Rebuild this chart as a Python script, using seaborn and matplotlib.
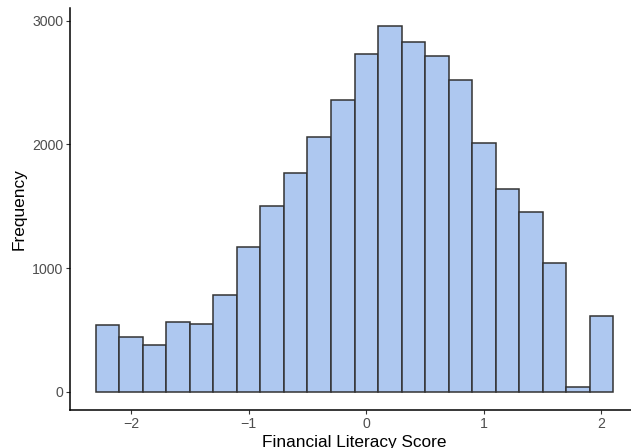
#!/usr/bin/env python3
import numpy as np
import pandas as pd
import matplotlib
matplotlib.use("Agg")
import matplotlib.pyplot as plt
import seaborn as sns

# histogram bins (width 0.2) and counts
bin_edges = [round(-2.3 + 0.2 * i, 2) for i in range(23)]
counts = [536, 439, 374, 560, 544, 784, 1170, 1504, 1773, 2064, 2363,
          2735, 2956, 2829, 2719, 2522, 2013, 1639, 1455, 1045, 38, 612]
x_ticks = [-2, -1, 0, 1, 2]
y_ticks = [0, 1000, 2000, 3000]

edges = np.array(bin_edges)
df = pd.DataFrame({
    "score": (edges[:-1] + edges[1:]) / 2,
    "count": counts,
})

sns.set_style("white")
plt.rcParams["font.family"] = ["Liberation Sans", "DejaVu Sans"]

W, H = 631, 448
fig = plt.figure(figsize=(W / 100, H / 100), dpi=100)
ax = fig.add_axes([70 / W, (H - 410) / H, (639 - 70) / W, (410 - 8) / H])

sns.histplot(data=df, x="score", weights="count", bins=bin_edges,
             color="#aec8f0", alpha=1, edgecolor="#333333", linewidth=1.1,
             ax=ax)

ax.set_xlim(-2.52, 2.32)
ax.set_ylim(-147.8, 3104)
ax.set_xticks(x_ticks)
ax.set_xticklabels(["\u22122", "\u22121", "0", "1", "2"])
ax.set_yticks(y_ticks)

for side in ["top", "right"]:
    ax.spines[side].set_visible(False)
for side in ["left", "bottom"]:
    ax.spines[side].set_color("black")
    ax.spines[side].set_linewidth(1.1)

ax.tick_params(axis="both", direction="out", length=3, width=0.8,
               color="#333333", labelcolor="#4d4d4d", labelsize=10.2, pad=2,
               bottom=True, left=True)
ax.set_xlabel("Financial Literacy Score", fontsize=12.4, color="black", labelpad=3)
ax.set_ylabel("Frequency", fontsize=12.4, color="black", labelpad=4)

fig.savefig("out.png", dpi=100)
